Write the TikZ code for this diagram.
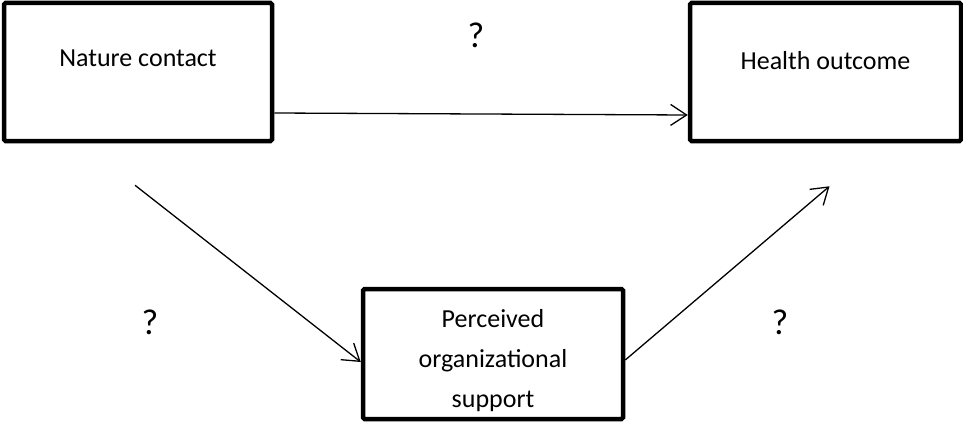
\documentclass[tikz,border=0pt]{standalone}
\usepackage{fontspec}
\setmainfont{Carlito}
\usepackage{tikz}
\usetikzlibrary{arrows.meta,calc}
\tikzset{
  box/.style={rectangle, draw=black, line width=4.5pt, rounded corners=1.5pt, align=center,
              font=\fontsize{26}{40}\selectfont, inner sep=0pt},
  topbox/.style={box, minimum height=138pt, text height=18pt, text depth=#1},
  topbox/.default={29pt},
  arr/.style={-{Straight Barb[length=16pt,width=21pt,line width=1.3pt]}, line width=1.3pt, black},
  qmark/.style={font=\fontsize{36}{40}\selectfont, inner sep=0pt},
}
\begin{document}
\begin{tikzpicture}[x=1pt, y=-1pt]
\useasboundingbox (0,0) rectangle (963,425);
\node[topbox, minimum width=268pt] (nature) at (138,72) {Nature contact};
\node[topbox=23pt, minimum width=271pt] (health) at (825.5,72) {Health outcome};
\node[box, minimum width=260pt, minimum height=130pt, text height=112pt, text depth=6pt] (support) at (493,354) {Perceived\\organizational\\support};
\draw[arr] ([yshift=-41pt]nature.east) -- ([yshift=-43pt]health.west);
\draw[arr] ([shift={(-3pt,-42pt)}]nature.south) -- ([yshift=-8pt]support.west);
\draw[arr] ([yshift=-6pt]support.east) -- ([shift={(4pt,-43pt)}]health.south);
\node[qmark] (qdirect) at (476,35) {?};
\node[qmark] (qleft) at (150,322) {?};
\node[qmark] (qright) at (780,322) {?};
\end{tikzpicture}
\end{document}
